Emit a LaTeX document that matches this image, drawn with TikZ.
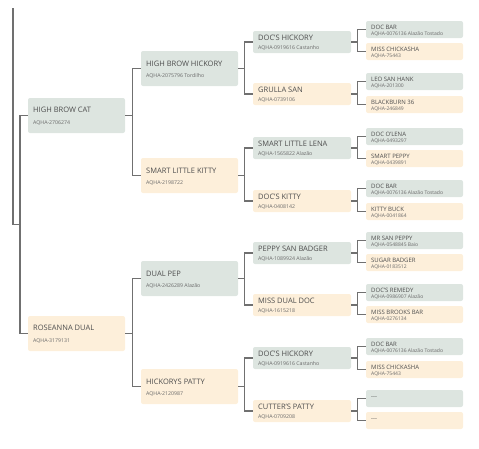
\documentclass[tikz,border=0pt]{standalone}
\usepackage{fontspec}
\setmainfont{Open Sans}
\usetikzlibrary{calc}

\definecolor{greenbox}{RGB}{221,229,224}
\definecolor{peachbox}{RGB}{253,239,218}
\definecolor{linkgray}{RGB}{112,112,112}
\definecolor{namegray}{RGB}{78,78,78}
\definecolor{reggray}{RGB}{105,105,105}

\begin{document}
\begin{tikzpicture}[x=1pt,y=-1pt,
  horse/.style={rectangle,rounded corners=2pt,anchor=north west,inner sep=0pt,outer sep=0pt},
  big/.style={horse,minimum width=97pt,minimum height=35pt},
  mid/.style={horse,minimum width=98pt,minimum height=22pt},
  small/.style={horse,minimum width=97pt,minimum height=17pt},
  horsename/.style={anchor=base west,inner sep=0pt,text=namegray},
  horsereg/.style={anchor=base west,inner sep=0pt,text=reggray,font=\fontsize{5.2}{6}\selectfont},
  link/.style={draw=linkgray,line width=1.1pt}]

\useasboundingbox (0,0) rectangle (479,448);

% sire and dam
\foreach \id/\top/\col/\nm/\num in {cat/98/greenbox/HIGH BROW CAT/AQHA-2706274,
  dual/316/peachbox/ROSEANNA DUAL/AQHA-3179131}
{
\node[big,fill=\col] (\id) at (28,\top) {};
\node[horsename,font=\fontsize{7.5}{9}\selectfont] (\id-nm) at ($(\id.north west)+(5,14.7)$) {\nm};
\node[horsereg] (\id-num) at ($(\id.north west)+(5,26.8)$) {\num};
}

% grandparents
\foreach \id/\top/\col/\nm/\num in {hick/51/greenbox/HIGH BROW HICKORY/AQHA-2075796 Tordilho,
  kitty/158/peachbox/SMART LITTLE KITTY/AQHA-2198722,
  pep/261/greenbox/DUAL PEP/AQHA-2426289 Alazão,
  patty/369/peachbox/HICKORYS PATTY/AQHA-2120987}
{
\node[big,fill=\col] (\id) at (141,\top) {};
\node[horsename,font=\fontsize{7.5}{9}\selectfont] (\id-nm) at ($(\id.north west)+(5,15.2)$) {\nm};
\node[horsereg] (\id-num) at ($(\id.north west)+(5,26.8)$) {\num};
}

% great-grandparents
\foreach \id/\top/\col/\nm/\num in {docshick/31/greenbox/DOC'S HICKORY/AQHA-0919616 Castanho,
  grulla/83/peachbox/GRULLA SAN/AQHA-0739106,
  lena/137/greenbox/SMART LITTLE LENA/AQHA-1565822 Alazão,
  docskitty/190/peachbox/DOC'S KITTY/AQHA-0408142,
  peppy/242/greenbox/PEPPY SAN BADGER/AQHA-1089924 Alazão,
  missdual/294/peachbox/MISS DUAL DOC/AQHA-1615218,
  docshickb/347/greenbox/DOC'S HICKORY/AQHA-0919616 Castanho,
  cutter/400/peachbox/CUTTER'S PATTY/AQHA-0709208}
{
\node[mid,fill=\col] (\id) at (253,\top) {};
\node[horsename,font=\fontsize{7.5}{9}\selectfont] (\id-nm) at ($(\id.north west)+(5,9.7)$) {\nm};
\node[horsereg] (\id-num) at ($(\id.north west)+(5,18)$) {\num};
}

% last row
\foreach \id/\top/\col/\nm/\num in {docbar/21/greenbox/DOC BAR/AQHA-0076136 Alazão Tostado,
  chick/43/peachbox/MISS CHICKASHA/AQHA-75443,
  leo/73/greenbox/LEO SAN HANK/AQHA-201300,
  blackburn/96/peachbox/BLACKBURN 36/AQHA-246849,
  olena/128/greenbox/DOC O'LENA/AQHA-0493297,
  smartpep/150/peachbox/SMART PEPPY/AQHA-0439891,
  docbarb/180/greenbox/DOC BAR/AQHA-0076136 Alazão Tostado,
  kittybuck/203/peachbox/KITTY BUCK/AQHA-0041864,
  mrsan/232/greenbox/MR SAN PEPPY/AQHA-0548845 Baio,
  sugar/254/peachbox/SUGAR BADGER/AQHA-0183512,
  remedy/284/greenbox/DOC'S REMEDY/AQHA-0986907 Alazão,
  brooks/306/peachbox/MISS BROOKS BAR/AQHA-0276134,
  docbarc/338/greenbox/DOC BAR/AQHA-0076136 Alazão Tostado,
  chickb/361/peachbox/MISS CHICKASHA/AQHA-75443,
  unknowna/390/greenbox/-{}-{}-/{},
  unknownb/412/peachbox/-{}-{}-/{}}
{
\node[small,fill=\col] (\id) at (366,\top) {};
\node[horsename,font=\fontsize{6}{7}\selectfont] (\id-nm) at ($(\id.north west)+(5,8)$) {\nm};
\node[horsereg,font=\fontsize{5}{6}\selectfont] (\id-num) at ($(\id.north west)+(5,14.7)$) {\num};
}

% connectors
\coordinate (root) at (13,8);
\coordinate (fork) at (20,224.5);
\draw[link] (root) |- (fork);
\draw[link] (fork) |- (cat.west);
\draw[link] (fork) |- (dual.west);
\foreach \p/\c in {cat/hick,cat/kitty,dual/pep,dual/patty,
  hick/docshick,hick/grulla,kitty/lena,kitty/docskitty,
  pep/peppy,pep/missdual,patty/docshickb,patty/cutter,
  docshick/docbar,docshick/chick,grulla/leo,grulla/blackburn,
  lena/olena,lena/smartpep,docskitty/docbarb,docskitty/kittybuck,
  peppy/mrsan,peppy/sugar,missdual/remedy,missdual/brooks,
  docshickb/docbarc,docshickb/chickb,cutter/unknowna,cutter/unknownb}
\draw[link] (\p.east) -| ([xshift=-8.5pt]\c.west) -- (\c.west);
\end{tikzpicture}
\end{document}
